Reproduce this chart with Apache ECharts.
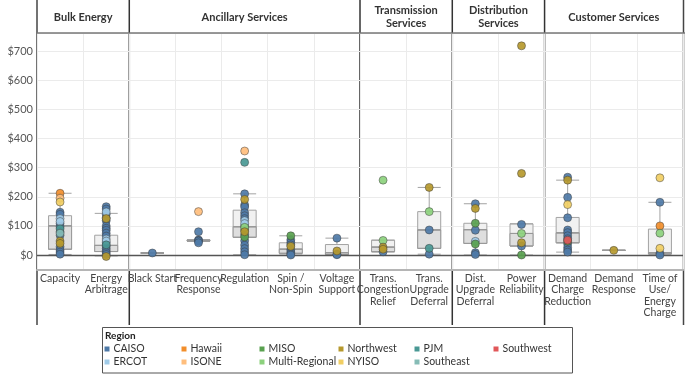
<!DOCTYPE html>
<html>
<head>
<meta charset="utf-8">
<script src="https://cdn.jsdelivr.net/npm/echarts@6/dist/echarts.min.js"></script>
<style>
  html, body { margin: 0; padding: 0; background: #fff; }
  #chart { width: 685px; height: 374px; }
</style>
</head>
<body>
<div id="chart"></div>
<script>
// categories (x axis) and their printed labels
const categories = ['Capacity', 'Energy Arbitrage', 'Black Start', 'Frequency Response', 'Regulation',
  'Spin', 'Voltage Support', 'Trans Congestion', 'Trans Upgrade', 'Dist Upgrade', 'Power Reliability',
  'Demand Charge', 'Demand Response', 'Time of Use']
const tickLabels = ['Capacity', 'Energy\nArbitrage', 'Black Start', 'Frequency\nResponse', 'Regulation',
  'Spin /\nNon-Spin', 'Voltage\nSupport', 'Trans.\nCongestion\nRelief', 'Trans.\nUpgrade\nDeferral',
  'Dist.\nUpgrade\nDeferral', 'Power\nReliability', 'Demand\nCharge\nReduction', 'Demand\nResponse',
  'Time of\nUse/\nEnergy\nCharge']
const yTicks = [0, 100, 200, 300, 400, 500, 600, 700]

// service groups shown in the header row: [title, number of categories]
const groups = [['Bulk Energy', 2], ['Ancillary Services', 5], ['Transmission\nServices', 2],
  ['Distribution\nServices', 2], ['Customer Services', 3]]

// box plot statistics per category
const boxMin = [2, -3, 7, 47, 1, 0, 1, 10, 3, 0, 0, 10, 16, 0]
const boxQ1 = [20, 12, 7, 48, 61, 6, 2, 12, 23, 40, 31, 42, 16, 4]
const boxMedian = [100, 33, 7, 50, 97, 20, 8, 27, 86, 87, 74, 76, 16, 8]
const boxQ3 = [135, 68, 7, 52, 154, 42, 36, 51, 149, 109, 107, 129, 16, 89]
const boxMax = [212, 143, 7, 53, 210, 66, 58, 51, 232, 176, 107, 257, 16, 181]

// individual values ($/kW-year) by region
const caiso = [
  ['Capacity', 147], ['Capacity', 140], ['Capacity', 108], ['Capacity', 97], ['Capacity', 80],
  ['Capacity', 68], ['Capacity', 28], ['Capacity', 17], ['Capacity', 10], ['Capacity', 3],
  ['Energy Arbitrage', 166], ['Energy Arbitrage', 158], ['Energy Arbitrage', 140], ['Energy Arbitrage', 128],
  ['Energy Arbitrage', 118], ['Energy Arbitrage', 100], ['Energy Arbitrage', 92], ['Energy Arbitrage', 85],
  ['Energy Arbitrage', 75], ['Energy Arbitrage', 65], ['Energy Arbitrage', 42], ['Energy Arbitrage', 30],
  ['Energy Arbitrage', 22], ['Energy Arbitrage', 15], ['Energy Arbitrage', 8], ['Energy Arbitrage', 2],
  ['Black Start', 7],
  ['Frequency Response', 80], ['Frequency Response', 52], ['Frequency Response', 50],
  ['Frequency Response', 48], ['Frequency Response', 42],
  ['Regulation', 210], ['Regulation', 172], ['Regulation', 165], ['Regulation', 145], ['Regulation', 135],
  ['Regulation', 125], ['Regulation', 100], ['Regulation', 70], ['Regulation', 49], ['Regulation', 34],
  ['Regulation', 22], ['Regulation', 11], ['Regulation', 1],
  ['Spin', 52], ['Spin', 43], ['Spin', 35], ['Spin', 18], ['Spin', 10], ['Spin', 4], ['Spin', 0],
  ['Voltage Support', 58], ['Voltage Support', 3], ['Voltage Support', 1],
  ['Trans Congestion', 11],
  ['Trans Upgrade', 86], ['Trans Upgrade', 3],
  ['Dist Upgrade', 176], ['Dist Upgrade', 85], ['Dist Upgrade', 8], ['Dist Upgrade', 2],
  ['Power Reliability', 105], ['Power Reliability', 31],
  ['Demand Charge', 267], ['Demand Charge', 198], ['Demand Charge', 128], ['Demand Charge', 86],
  ['Demand Charge', 77], ['Demand Charge', 66], ['Demand Charge', 56], ['Demand Charge', 38],
  ['Demand Charge', 26], ['Demand Charge', 17], ['Demand Charge', 10],
  ['Time of Use', 181], ['Time of Use', 6], ['Time of Use', 0]
]
const ercot = [['Capacity', 125], ['Capacity', 115], ['Energy Arbitrage', 148], ['Energy Arbitrage', 55],
  ['Energy Arbitrage', 48], ['Regulation', 118], ['Regulation', 108], ['Dist Upgrade', 47]]
const hawaii = [['Capacity', 212], ['Time of Use', 100]]
const isone = [['Capacity', 195], ['Frequency Response', 149], ['Regulation', 357]]
const miso = [['Regulation', 86], ['Regulation', 62], ['Spin', 66], ['Dist Upgrade', 109],
  ['Dist Upgrade', 38], ['Power Reliability', 0], ['Demand Charge', 47]]
const multiRegional = [['Regulation', 95], ['Trans Congestion', 257], ['Trans Congestion', 50],
  ['Trans Upgrade', 149], ['Power Reliability', 74], ['Time of Use', 75]]
const northwest = [['Capacity', 48], ['Capacity', 40], ['Energy Arbitrage', 125], ['Energy Arbitrage', -5],
  ['Regulation', 191], ['Regulation', 80], ['Spin', 30], ['Voltage Support', 14], ['Trans Congestion', 27],
  ['Trans Congestion', 20], ['Trans Upgrade', 232], ['Dist Upgrade', 160], ['Power Reliability', 718],
  ['Power Reliability', 280], ['Power Reliability', 42], ['Demand Charge', 257], ['Demand Response', 16]]
const nyiso = [['Capacity', 182], ['Demand Charge', 173], ['Time of Use', 265], ['Time of Use', 23]]
const pjm = [['Capacity', 90], ['Energy Arbitrage', 35], ['Regulation', 318], ['Trans Upgrade', 23]]
const southeast = [['Capacity', 75]]
const southwest = [['Demand Charge', 51]]

const regions = [
  { name: 'CAISO', color: '#4e79a7', data: caiso },
  { name: 'ERCOT', color: '#a0cbe8', data: ercot },
  { name: 'Hawaii', color: '#f28e2b', data: hawaii },
  { name: 'ISONE', color: '#ffbe7d', data: isone },
  { name: 'MISO', color: '#59a14f', data: miso },
  { name: 'Multi-Regional', color: '#8cd17d', data: multiRegional },
  { name: 'Northwest', color: '#b6992d', data: northwest },
  { name: 'NYISO', color: '#f1ce63', data: nyiso },
  { name: 'PJM', color: '#499894', data: pjm },
  { name: 'Southeast', color: '#86bcb6', data: southeast },
  { name: 'Southwest', color: '#e15759', data: southwest },
]

const FONT = 'Lato, "Open Sans", sans-serif'
const GRID_LEFT = 37
const GRID_RIGHT = 2
const W = 685
const colW = (W - GRID_LEFT - GRID_RIGHT) / categories.length
const LINE_BOTTOM = 325

const chart = echarts.init(document.getElementById('chart'))

// header texts and group separators
const graphics = []
let start = 0
groups.forEach(([title, n], i) => {
  const x0 = GRID_LEFT + start * colW
  const x1 = x0 + n * colW
  graphics.push({
    type: 'text',
    x: (x0 + x1) / 2,
    y: 17,
    style: {
      text: title,
      align: 'center',
      verticalAlign: 'middle',
      font: 'bold 11px ' + FONT,
      fill: '#333',
      lineHeight: 13,
    },
    silent: true,
  })
  if (i > 0) {
    graphics.push({
      type: 'line',
      shape: { x1: x0, y1: 0, x2: x0, y2: LINE_BOTTOM },
      style: { stroke: '#333', lineWidth: 1.5 },
      silent: true,
    })
  }
  start += n
})
graphics.push(
  { type: 'line', shape: { x1: GRID_LEFT, y1: 0, x2: GRID_LEFT, y2: LINE_BOTTOM },
    style: { stroke: '#444', lineWidth: 1.5 }, silent: true },
  { type: 'line', shape: { x1: W - 1.5, y1: 0, x2: W - 1.5, y2: LINE_BOTTOM },
    style: { stroke: '#444', lineWidth: 1.5 }, silent: true },
  { type: 'line', shape: { x1: GRID_LEFT, y1: 33, x2: W, y2: 33 },
    style: { stroke: '#777', lineWidth: 1.5 }, silent: true, z: 10 },
  { type: 'rect', shape: { x: 102.5, y: 327.5, width: 470, height: 45.5 },
    style: { fill: 'none', stroke: '#555', lineWidth: 1 }, silent: true },
  { type: 'text', x: 105, y: 336,
    style: { text: 'Region', font: 'bold 10px ' + FONT, fill: '#222', verticalAlign: 'middle' },
    silent: true }
)

// legend: one small vertical legend per column, two names each
const legendCols = [['CAISO', 'ERCOT'], ['Hawaii', 'ISONE'], ['MISO', 'Multi-Regional'],
  ['Northwest', 'NYISO'], ['PJM', 'Southeast'], ['Southwest']]
const legendLeft = [104.5, 181.5, 259.5, 338.5, 414.5, 493.5]
const legends = legendCols.map((names, i) => ({
  data: names,
  orient: 'vertical',
  left: legendLeft[i],
  top: 343.5,
  padding: 0,
  itemWidth: 5,
  itemHeight: 5,
  itemGap: 2,
  icon: 'rect',
  selectedMode: false,
  itemStyle: { borderWidth: 0, opacity: 1 },
  textStyle: { fontFamily: FONT, fontSize: 10.5, lineHeight: 11, color: '#333', padding: [0, 0, 0, -1] },
}))

const fullBox = categories.map((c, i) => [boxMin[i], boxQ1[i], boxMedian[i], boxQ3[i], boxMax[i]])
const lowerBox = categories.map((c, i) => [boxQ1[i], boxQ1[i], boxMedian[i], boxMedian[i], boxMedian[i]])

const option = {
  animation: false,
  backgroundColor: '#fff',
  textStyle: { fontFamily: FONT },
  graphic: graphics,
  legend: legends,
  grid: { left: GRID_LEFT, right: GRID_RIGHT, top: 33, bottom: 104.4, outerBoundsMode: 'none', containLabel: false },
  xAxis: [
    {
      type: 'category',
      data: categories,
      position: 'bottom',
      axisLine: { onZero: false, lineStyle: { color: '#b5b5b5', width: 2 } },
      axisTick: { show: false },
      splitLine: { show: true, interval: 0, lineStyle: { color: '#ebebeb', width: 1 } },
      axisLabel: {
        interval: 0,
        margin: 3,
        fontSize: 10.5,
        lineHeight: 11.5,
        color: '#444',
        fontFamily: FONT,
        hideOverlap: false,
        formatter: (v, i) => tickLabels[i],
      },
    },
    { type: 'category', data: categories, show: false },
  ],
  yAxis: {
    type: 'value',
    min: -50,
    max: 762,
    interval: 50,
    name: '$/kW-year',
    nameLocation: 'middle',
    nameGap: 29,
    nameRotate: 90,
    nameTextStyle: { fontFamily: FONT, fontSize: 11, fontWeight: 'bold', color: '#222' },
    axisLine: { show: false },
    axisTick: { show: false },
    axisLabel: {
      margin: 4,
      fontSize: 11,
      color: '#555',
      fontFamily: FONT,
      formatter: (v) => (yTicks.includes(v) ? '$' + v : ''),
    },
    splitLine: { show: true, lineStyle: { color: ['transparent', '#ebebeb'], width: 1 } },
  },
  series: [
    {
      type: 'boxplot',
      xAxisIndex: 0,
      data: fullBox,
      boxWidth: [23, 23],
      itemStyle: { color: '#f1f1f1', borderColor: '#a3a3a3', borderWidth: 1 },
      silent: true,
      z: 2,
      markLine: {
        silent: true,
        symbol: 'none',
        label: { show: false },
        lineStyle: { color: '#555', width: 1.3, type: 'solid' },
        data: [{ yAxis: 0 }],
      },
    },
    {
      type: 'boxplot',
      xAxisIndex: 1,
      data: lowerBox,
      boxWidth: [23, 23],
      itemStyle: { color: '#dedede', borderColor: '#999', borderWidth: 1 },
      silent: true,
      z: 3,
    },
    ...regions.map(({ name, color, data }) => ({
      name,
      type: 'scatter',
      data,
      symbolSize: 8,
      z: 5,
      itemStyle: { color, borderColor: 'rgba(60,60,60,0.75)', borderWidth: 0.7, opacity: 0.92 },
    })),
  ],
}

chart.setOption(option)
</script>
</body>
</html>
